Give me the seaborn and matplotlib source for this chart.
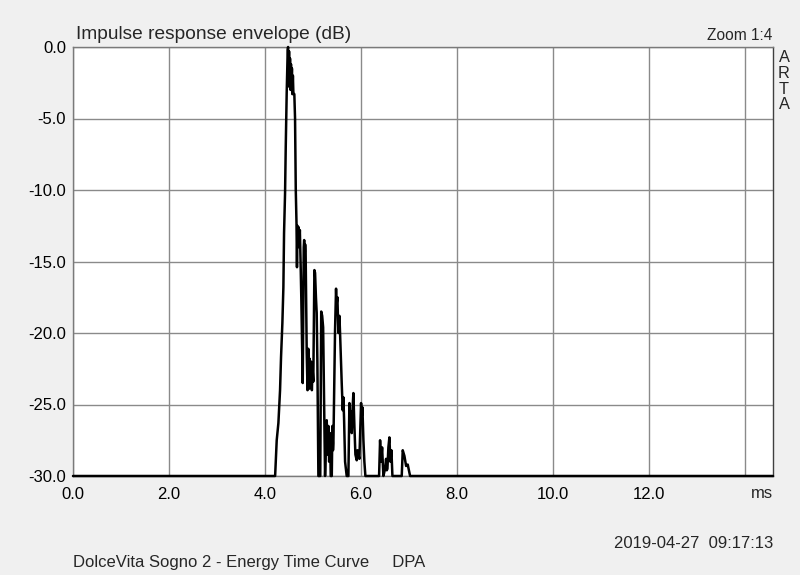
import numpy as np
import pandas as pd
import matplotlib
matplotlib.use("Agg")
import matplotlib.pyplot as plt
import seaborn as sns

# ---- data (time in ms, level in dB) ----
time_ms = [0.0, 4.21, 4.243, 4.278, 4.3125, 4.333, 4.361, 4.382, 4.396, 4.417,
           4.431, 4.451, 4.472, 4.48, 4.49, 4.50, 4.51, 4.52, 4.53, 4.54,
           4.55, 4.56, 4.57, 4.58, 4.59, 4.61, 4.625, 4.64, 4.655, 4.665,
           4.675, 4.69, 4.70, 4.715, 4.725, 4.74, 4.755, 4.785, 4.806, 4.815,
           4.825, 4.835, 4.845, 4.868, 4.885, 4.90, 4.915, 4.93, 4.945, 4.96,
           4.975, 4.99, 5.005, 5.028, 5.042, 5.06, 5.076, 5.09, 5.111, 5.15,
           5.17, 5.19, 5.21, 5.25, 5.285, 5.30, 5.319, 5.335, 5.354, 5.368,
           5.39, 5.403, 5.415, 5.424, 5.458, 5.479, 5.49, 5.507, 5.528, 5.549,
           5.5625, 5.597, 5.618, 5.632, 5.646, 5.667, 5.701, 5.736, 5.757, 5.77,
           5.785, 5.806, 5.82, 5.840, 5.861, 5.882, 5.91, 5.925, 5.944, 5.965,
           6.0, 6.015, 6.028, 6.049, 6.069, 6.09, 6.375, 6.396, 6.417, 6.438,
           6.465, 6.5, 6.521, 6.535, 6.549, 6.569, 6.59, 6.611, 6.632, 6.653,
           6.847, 6.868, 6.903, 6.938, 6.972, 7.021, 14.58]
level_db = [-30, -30, -27.5, -26.3, -24.0, -21.7, -19.3, -16.8, -13.0, -10.2,
            -7.0, -3.2, -0.2, 0.0, -2.2, -0.3, -2.8, -0.8, -3.0, -1.2,
            -2.5, -1.5, -3.3, -2.0, -3.2, -3.3, -5.0, -10.0, -12.3, -15.4,
            -12.5, -14.0, -12.6, -13.8, -12.8, -15.0, -17.5, -23.5, -14.0, -13.5,
            -14.5, -13.8, -14.3, -21.4, -24.0, -21.1, -23.9, -21.8, -23.8, -22.0,
            -24.0, -22.5, -23.4, -15.6, -15.8, -17.5, -18.6, -22.0, -30, -30,
            -18.5, -18.8, -19.6, -30, -26.1, -28.5, -26.5, -29.0, -27.0, -30,
            -30, -26.5, -28.2, -27.7, -19.8, -16.9, -18.0, -17.5, -20.0, -18.8,
            -20.0, -23.5, -25.4, -24.5, -26.0, -29.0, -30, -30, -24.9, -26.5,
            -25.5, -27.0, -25.5, -24.2, -26.5, -28.5, -28.9, -28.2, -28.5, -28.8,
            -24.9, -25.8, -25.2, -27.5, -29.0, -30, -30, -27.5, -29.0, -28.0,
            -30, -29.5, -28.8, -29.6, -29.5, -28.0, -27.3, -29.0, -28.2, -30,
            -30, -28.2, -28.6, -29.3, -29.2, -30, -30]

x_ticks = [0, 2, 4, 6, 8, 10, 12, 14]
x_tick_labels = ["0.0", "2.0", "4.0", "6.0", "8.0", "10.0", "12.0", ""]
y_ticks = [0, -5, -10, -15, -20, -25, -30]
y_tick_labels = ["0.0", "-5.0", "-10.0", "-15.0", "-20.0", "-25.0", "-30.0"]

title_text = "Impulse response envelope (dB)"
zoom_text = "Zoom 1:4"
brand_letters = "ARTA"
unit_text = "ms"
date_text = "2019-04-27  09:17:13"
caption_text = "DolceVita Sogno 2 - Energy Time Curve     DPA"

sns.set_theme(style="white")
plt.rcParams['font.family'] = ['Liberation Sans', 'DejaVu Sans']

W, H = 800, 575
fig = plt.figure(figsize=(8, 5.75), dpi=100, facecolor="#f0f0f0")
ax = fig.add_axes([73 / W, 1 - 476 / H, (773 - 73) / W, (476 - 47) / H])
ax.set_facecolor("white")

df = pd.DataFrame({"t": time_ms, "db": level_db})
sns.lineplot(data=df, x="t", y="db", color="black", linewidth=1.8,
             estimator=None, sort=False, ax=ax, clip_on=False, zorder=5)

ax.set_xlim(0, 14.58)
ax.set_ylim(-30, 0)
ax.set_xticks(x_ticks)
ax.set_xticklabels(x_tick_labels)
ax.set_yticks(y_ticks)
ax.set_yticklabels(y_tick_labels)
ax.set_xlabel("")
ax.set_ylabel("")
ax.tick_params(axis="both", length=0, labelsize=12, colors="black")
ax.tick_params(axis="x", pad=8)
ax.tick_params(axis="y", pad=5)
ax.grid(True, color="#8a8a8a", linewidth=1.0)
for s in ax.spines.values():
    s.set_visible(True)
    s.set_color("#7a7a7a")
    s.set_linewidth(1.0)
ax.spines["right"].set_color("#404040")

fig.text(76 / W, 1 - 39 / H, title_text, fontsize=13.8, ha="left", va="baseline")
fig.text(772 / W, 1 - 40 / H, zoom_text, fontsize=11.2, ha="right", va="baseline")
for i, ch in enumerate(brand_letters):
    fig.text(784 / W, 1 - (62 + i * 15.8) / H, ch, fontsize=11.8,
             ha="center", va="baseline")
fig.text(773 / W, 1 - 493 / H, unit_text, fontsize=12, ha="right", va="center")
fig.text(773 / W, 1 - 543 / H, date_text, fontsize=12, ha="right", va="center")
fig.text(73 / W, 1 - 562 / H, caption_text, fontsize=12, ha="left", va="center")

fig.savefig("out.png", dpi=100, facecolor=fig.get_facecolor())
